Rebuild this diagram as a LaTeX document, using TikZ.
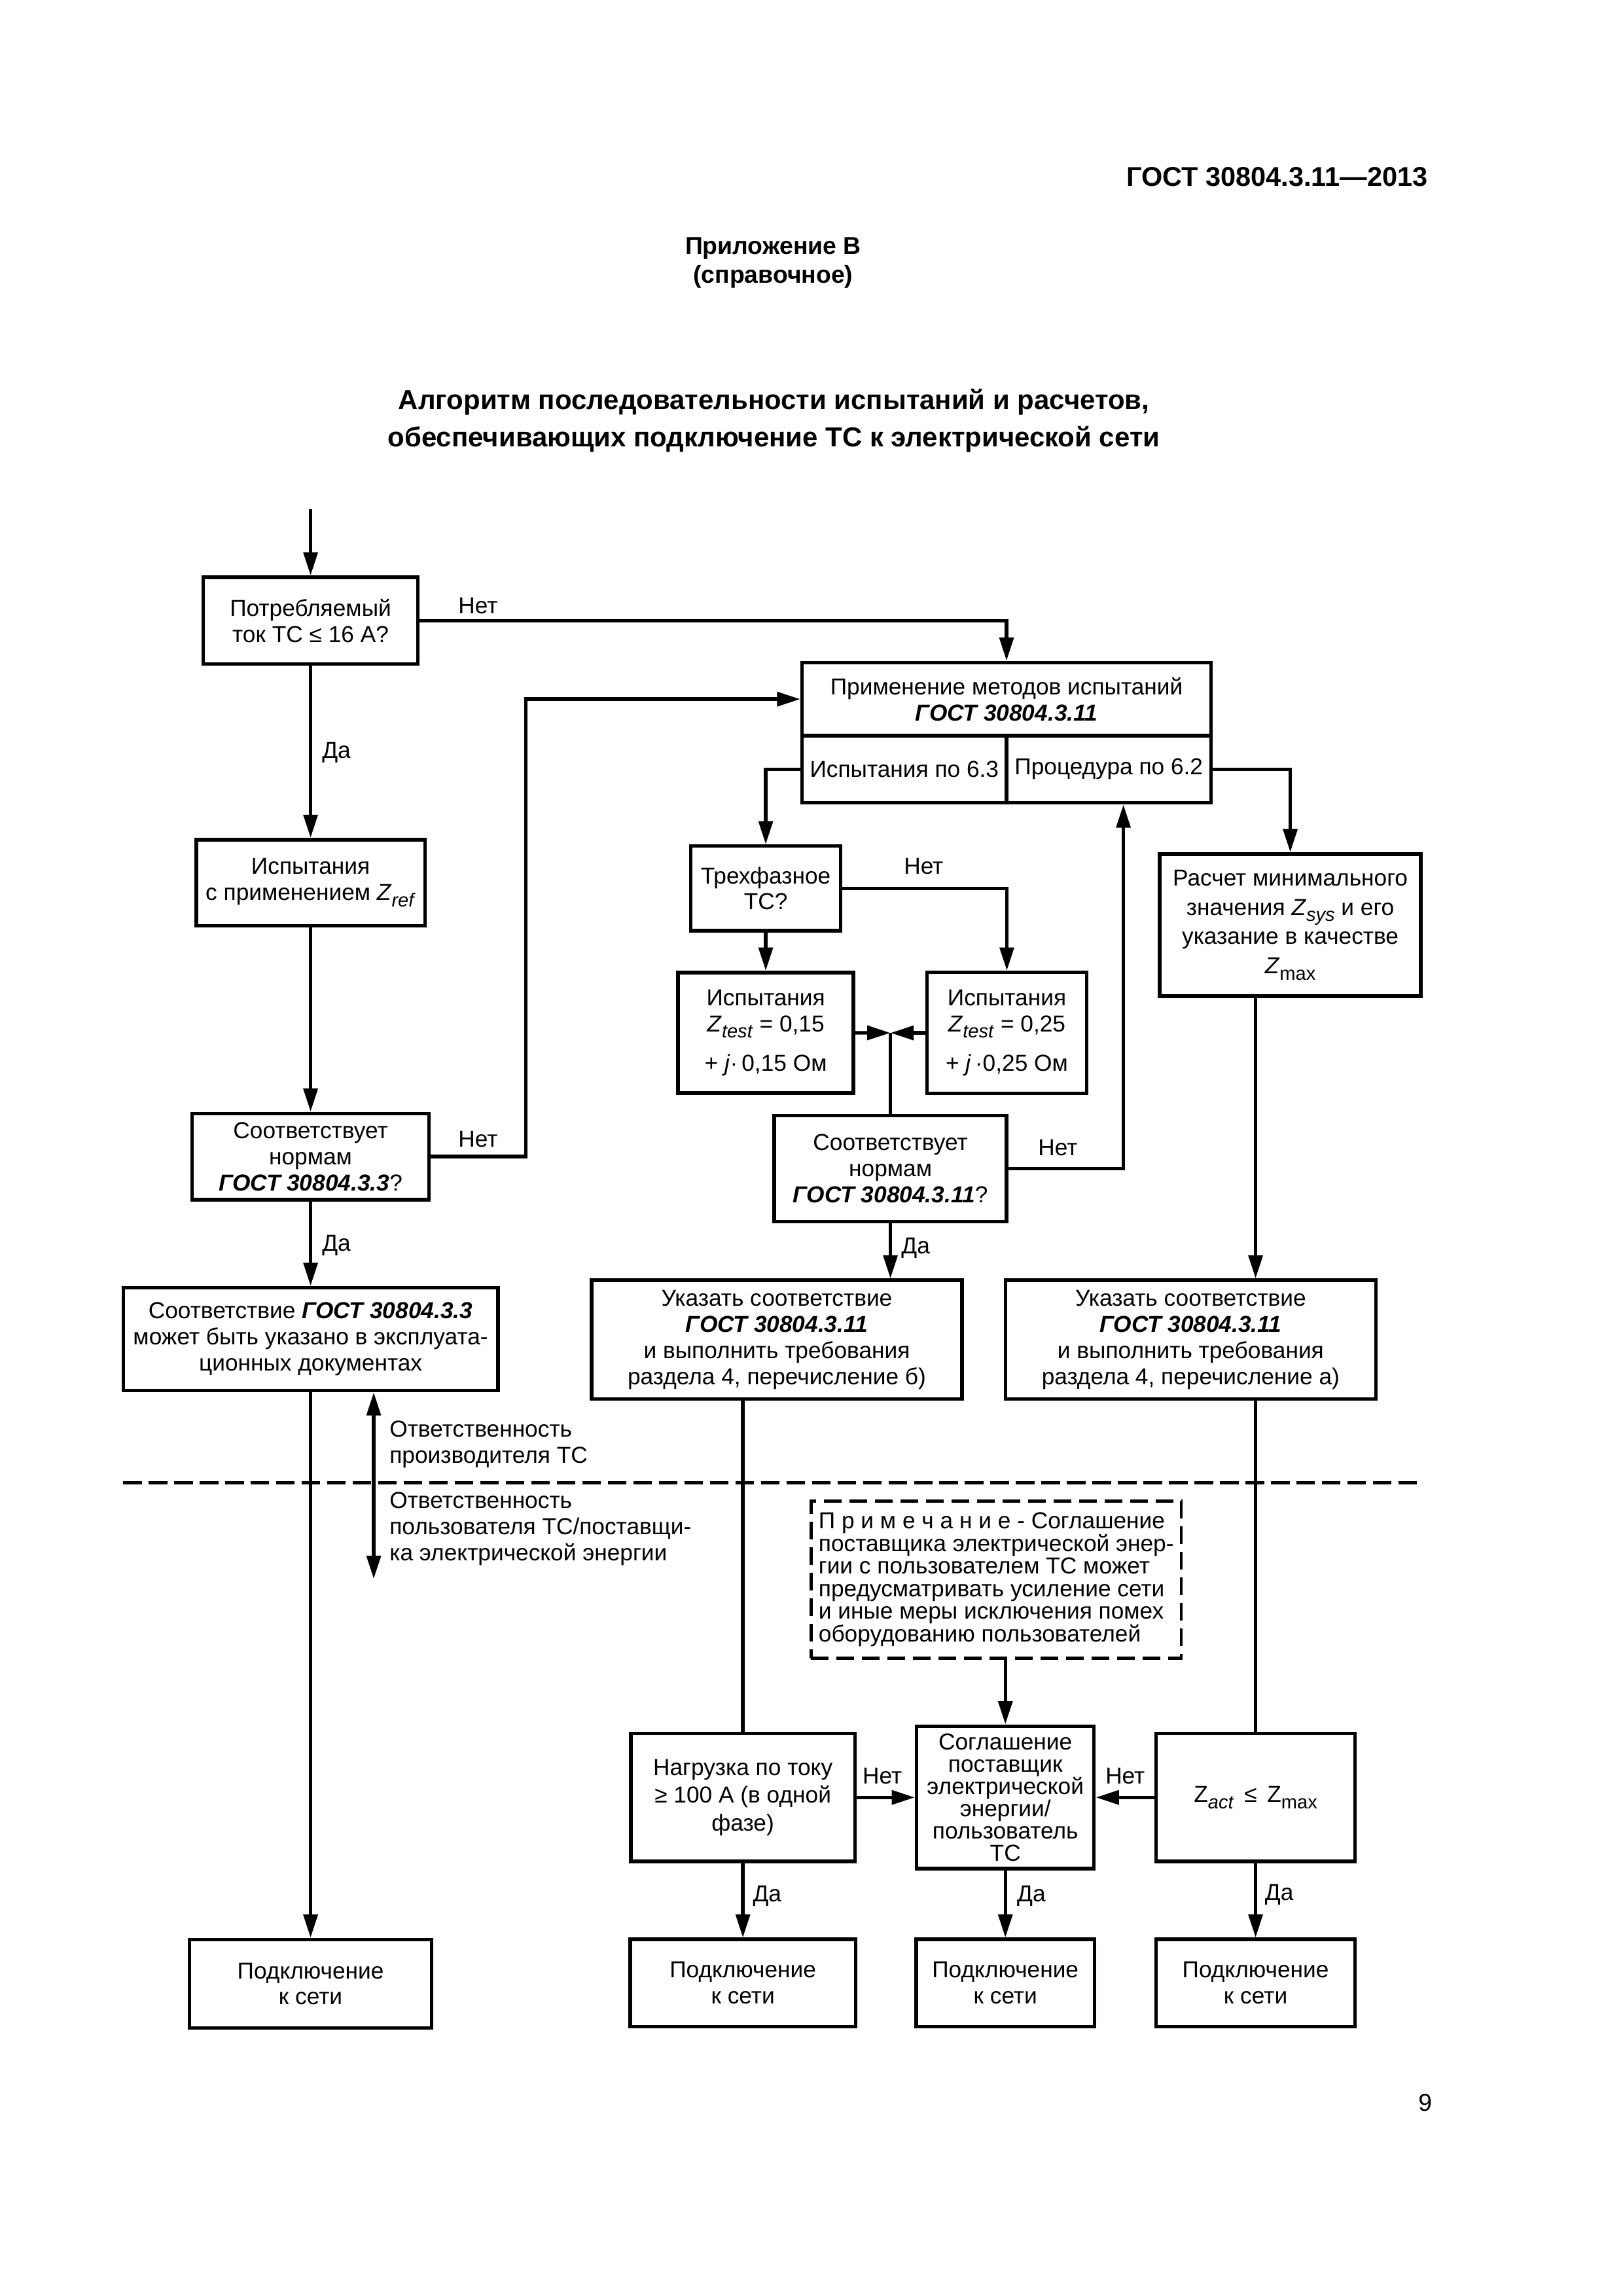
\documentclass[tikz,border=0pt]{standalone}
\usepackage{fontspec}
\setmainfont{Liberation Sans}
\usetikzlibrary{arrows.meta}
\usetikzlibrary{positioning}

\newlength{\px}
\setlength{\px}{0.0190909cm}
\newcommand{\boxfont}{\fontsize{8.5}{9.6}\selectfont}
\newcommand{\gost}[1]{\textbf{\textit{ГОСТ #1}}}
\newcommand{\sbs}[1]{\raisebox{-2.3pt}{\fontsize{7}{7}\selectfont #1}}
\newcommand{\Zi}[1]{\textit{Z}\sbs{\textit{#1}}}
\newcommand{\Zu}[1]{\textit{Z}\sbs{#1}}

\begin{document}
\begin{tikzpicture}[x=0.0190909cm,y=-0.0190909cm,
  every node/.style={font=\boxfont,inner sep=0pt},
  box/.style={draw,line width=1.3pt,align=center},
  boxsize/.style 2 args={minimum width=#1*\px,minimum height=#2*\px},
  ln/.style={line width=1.3pt},
  arr/.style={ln,-{Triangle[length=3mm,width=1.8mm]}},
  notebox/.style={draw,line width=1.1pt,dash pattern=on 2.3mm off 1mm,align=left,font=\fontsize{8.5}{8.3}\selectfont}]
  \useasboundingbox (0,0) rectangle (1100,1556);

  \node[font=\bfseries\fontsize{10}{12}\selectfont,anchor=east] (hdr) at (968,120) {ГОСТ 30804.3.11—2013};
  \node[font=\bfseries\fontsize{9}{10.7}\selectfont,align=center] (app) at (524,178) {Приложение В\\(справочное)};
  \node[font=\bfseries\fontsize{10.1}{13.6}\selectfont,align=center] (ttl) at (524.5,285) {Алгоритм последовательности испытаний и расчетов,\\обеспечивающих подключение ТС к электрической сети};
  \node[font=\fontsize{9}{11}\selectfont] (pg) at (966,1425) {9};

  \coordinate (in) at (210.5,345);
  \coordinate (jn) at (603.5,700);
  \coordinate (loopx) at (356.4,0);
  \coordinate (upx) at (761.4,0);
  \coordinate (resp) at (253.3,1070);
  \coordinate (sepL) at (83.5,1005);
  \coordinate (sepR) at (964,1005);

  \node[box,boxsize={145.6}{58.8}] (A) at (210.5,420.6) {Потребляемый\\ток ТС ≤ 16 А?};
  \node[box,boxsize={155}{58.3}] (C) at (210.5,598.2) {Испытания\\с применением \Zi{ref}};
  \node[box,boxsize={160.7}{58.4}] (D) at (210.5,783.8) {Соответствует\\нормам\\\gost{30804.3.3}?};
  \node[box,boxsize={254}{69.7}] (E) at (210.5,907.5) {Соответствие \gost{30804.3.3}\\может быть указано в эксплуата-\\ционных документах};

  \node[box,boxsize={277.2}{49.6}] (Btop) at (682.2,473.8) {Применение методов испытаний\\\gost{30804.3.11}};
  \node[box,boxsize={138.6}{45.4}] (B63) at (612.9,521.3) {Испытания по 6.3};
  \node[box,boxsize={138.6}{45.4}] (B62) at (751.5,521.3) {Процедура по 6.2};

  \node[box,boxsize={101.5}{57.4}] (F) at (519,602.1) {Трехфазное\\ТС?};
  \node[box,boxsize={118.8}{81.7}] (G) at (519,699.9) {Испытания\\\Zi{test} = 0,15\\[5pt]+ \textit{j}·\,0,15 Ом};
  \node[box,boxsize={108.4}{82}] (H) at (682.4,700) {Испытания\\\Zi{test} = 0,25\\[5pt]+ \textit{j}\,·0,25 Ом};
  \node[box,boxsize={157.5}{71.8}] (I) at (603.5,791.9) {Соответствует\\нормам\\\gost{30804.3.11}?};
  \node[box,boxsize={251.2}{80.5}] (J) at (526.5,907.9) {Указать соответствие\\\gost{30804.3.11}\\и выполнить требования\\раздела 4, перечисление б)};

  \node[box,boxsize={177}{96.3},font=\fontsize{8.5}{10.8}\selectfont] (K) at (874.5,626.9) {Расчет минимального\\значения \Zi{sys} и его\\указание в качестве\\\Zu{max}};
  \node[box,boxsize={250.9}{80.5}] (L) at (807,907.9) {Указать соответствие\\\gost{30804.3.11}\\и выполнить требования\\раздела 4, перечисление а)};

  \node[notebox,boxsize={251}{106.5}] (nt) at (675.2,1070.5) {П р и м е ч а н и е - Соглашение\\поставщика электрической энер-\\гии с пользователем ТС может\\предусматривать усиление сети\\и иные меры исключения помех\\оборудованию пользователей};

  \node[box,boxsize={152}{86.8},font=\fontsize{8.5}{10.2}\selectfont] (M) at (503.5,1218.1) {Нагрузка по току\\≥ 100 А (в одной\\фазе)};
  \node[box,boxsize={120.2}{96.6},font=\fontsize{8.5}{8.2}\selectfont] (N) at (681.4,1218.1) {Соглашение\\поставщик\\электрической\\энергии/\\пользователь\\ТС};
  \node[box,boxsize={134.7}{86.8}] (O) at (851,1218.1) {Z\sbs{\textit{act}} \,≤\, Z\sbs{max}};

  \node[box,boxsize={164}{60}] (P1) at (210.5,1344.4) {Подключение\\к сети};
  \node[box,boxsize={152.7}{59.2}] (P2) at (503.5,1343.9) {Подключение\\к сети};
  \node[box,boxsize={121}{59.2}] (P3) at (681.4,1343.9) {Подключение\\к сети};
  \node[box,boxsize={135}{59.2}] (P4) at (851,1343.9) {Подключение\\к сети};

  \node (netA) at (324,410.5) {Нет};
  \node (daA) at (228,510) {Да};
  \node (netD) at (324,772) {Нет};
  \node (daD) at (228,844) {Да};
  \node (netF) at (626,587.2) {Нет};
  \node (netI) at (717,777.8) {Нет};
  \node (daI) at (620.6,845.8) {Да};
  \node (netM) at (598,1203.5) {Нет};
  \node (netO) at (762.6,1203.5) {Нет};
  \node (daM) at (520,1285) {Да};
  \node (daN) at (699,1285) {Да};
  \node (daO) at (867,1284) {Да};

  \node[anchor=west,align=left] (resp1) at (263.7,979) {Ответственность\\производителя ТС};
  \node[anchor=west,align=left] (resp2) at (263.7,1036) {Ответственность\\пользователя ТС/поставщи-\\ка электрической энергии};

  \draw[arr] (in) -- (A);
  \draw[arr] (A.east) -| (Btop.north);
  \draw[arr] (A) -- (C);
  \draw[arr] (C) -- (D);
  \draw[arr] (D.east) -| (loopx |- Btop.west) -- (Btop.west);
  \draw[arr] (D) -- (E);
  \draw[arr] (E) -- (P1);
  \draw[ln,{Triangle[length=3mm,width=1.8mm]}-{Triangle[length=3mm,width=1.8mm]}] (E.south -| resp) -- (resp);
  \draw[line width=1.2pt,dash pattern=on 2.4mm off 0.9mm] (sepL) -- (sepR);

  \draw[arr] (B63.west) -| (F.north);
  \draw[arr] (B62.east) -| (K.north);
  \draw[arr] (F) -- (G);
  \draw[arr] (F.east) -| (H.north);
  \draw[arr] (G.east) -- (jn);
  \draw[arr] (H.west) -- (jn);
  \draw[ln] (jn) -- (I.north);
  \draw[arr] (I.east) -| (upx |- B62.south);
  \draw[arr] (I) -- (I.south |- J.north);

  \draw[arr] (K.south -| O.north) -- (L.north -| O.north);
  \draw[ln] (J.south -| M.north) -- (M.north);
  \draw[ln] (L.south -| O.north) -- (O.north);
  \draw[arr] (nt.south -| N.north) -- (N.north);
  \draw[arr] (M) -- (N);
  \draw[arr] (O) -- (N);
  \draw[arr] (M) -- (P2);
  \draw[arr] (N) -- (P3);
  \draw[arr] (O) -- (P4);
\end{tikzpicture}
\end{document}
